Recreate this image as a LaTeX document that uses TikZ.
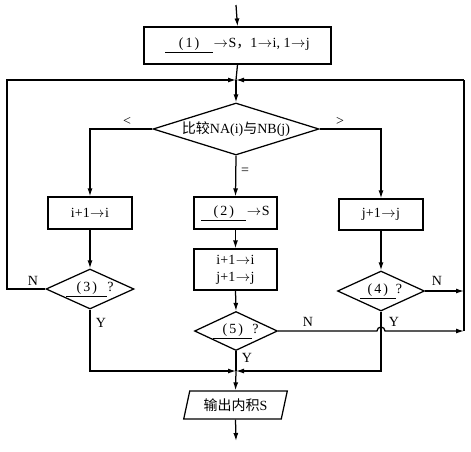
\documentclass[tikz,border=0pt]{standalone}
\usepackage{fontspec}
\setmainfont{Liberation Serif}
\newfontfamily\cjk{Noto Sans CJK SC}
\usetikzlibrary{shapes.geometric,arrows.meta}
\newcommand{\ar}{\kern0.5pt$\rightarrow$\kern0.5pt}
\newcommand{\ul}[2]{\underline{\makebox[#1]{(\kern2pt#2\kern2pt)}}}
\begin{document}
\begin{tikzpicture}[x=1pt,y=-1pt,
  every node/.style={font=\fontsize{14}{16}\selectfont},
  line/.style={line width=1.25pt},
  arr/.style={line width=1.25pt,-{Latex[length=8pt,width=5pt]}},
  box/.style={draw,line width=1.25pt,rectangle,inner sep=0pt},
  dia/.style={draw,line width=1.25pt,diamond,inner sep=0pt},
  io/.style={draw,line width=1.25pt,trapezium,trapezium left angle=72,trapezium right angle=108,trapezium stretches=true,inner sep=0pt},
  lab/.style={inner sep=0pt}]
\useasboundingbox (0,0) rectangle (471,451);
\coordinate (start) at (236,5);
\node[box,minimum width=187pt,minimum height=37pt] (b1) at (237.5,45.5) {\ul{48pt}{1}\ar S{\cjk ，}1\ar i, 1\ar j};
\coordinate (m1) at (236,80);
\node[dia,minimum width=166pt,minimum height=52pt] (d1) at (236,129) {\makebox[0pt]{{\cjk 比较}NA(i){\cjk 与}NB(j)}};
\node[box,minimum width=84pt,minimum height=32pt] (bi) at (90,213) {i+1\ar i};
\node[box,minimum width=83pt,minimum height=32pt] (b2) at (235.5,213) {\ul{45pt}{2}\ar S};
\node[box,minimum width=84pt,minimum height=31pt] (bj) at (381,214.5) {j+1\ar j};
\node[box,minimum width=83pt,minimum height=41pt,align=center] (b3) at (235.5,269.5) {i+1\ar i\\[1pt]j+1\ar j};
\node[dia,minimum width=88pt,minimum height=40pt] (d3) at (90,289) {\makebox[0pt]{\ul{41pt}{3}?}};
\node[dia,minimum width=87pt,minimum height=40pt] (d4) at (381,291) {\makebox[0pt]{\ul{36pt}{4}?}};
\node[dia,minimum width=83pt,minimum height=39pt] (d5) at (236,331) {\makebox[0pt]{\ul{39pt}{5}?}};
\coordinate (m2) at (236,371);
\node[io,minimum width=104pt,minimum height=28pt] (out) at (235.5,405) {{\cjk 输出内积}S};
\coordinate (end) at (236,441);
\coordinate (lc) at (7,80);
\coordinate (rc) at (464,80);
\coordinate (rb) at (464,331);
% main flow
\draw[arr] (start) -- (b1.north);
\draw[line] (b1.south) -- (m1);
\draw[arr] (m1) -- (d1.north);
\draw[arr] (d1.west) -| (bi.north);
\draw[arr] (d1.east) -| (bj.north);
\draw[arr] (d1.south) -- (b2.north);
\draw[arr] (b2.south) -- (b3.north);
\draw[arr] (b3.south) -- (d5.north);
\draw[arr] (bi.south) -- (d3.north);
\draw[arr] (bj.south) -- (d4.north);
% loops
\draw[arr] (d3.west) -| (lc) -- (m1);
\draw[line] (rb) -- (rc);
\draw[arr] (rc) -- (m1);
\draw[arr] (d4.east) -- (d4.east -| rb);
\draw[arr] (d5.east) -- ([xshift=-4pt]d4.south |- d5.east) arc[start angle=180,end angle=0,radius=4pt] -- (rb);
% exits
\draw[arr] (d3.south) |- (m2);
\draw[arr] (d4.south) |- (m2);
\draw[line] (d5.south) -- (m2);
\draw[arr] (m2) -- (out.north);
\draw[arr] (out.south) -- (end);
% labels
\node[lab] (lt) at (127,121) {<};
\node[lab] (gt) at (340,121) {>};
\node[lab] (eq) at (245,171) {=};
\node[lab] (n3) at (33,281) {N};
\node[lab] (y3) at (101,323) {Y};
\node[lab] (n4) at (437,281) {N};
\node[lab] (y4) at (394,322) {Y};
\node[lab] (n5) at (308,322) {N};
\node[lab] (y5) at (247,358) {Y};
\end{tikzpicture}
\end{document}
